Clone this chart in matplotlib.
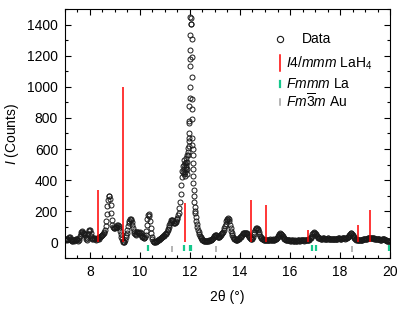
import numpy as np
import matplotlib
matplotlib.use('Agg')
import matplotlib.pyplot as plt

plt.rcParams['font.family'] = ['Liberation Sans', 'DejaVu Sans']
plt.rcParams['mathtext.fontset'] = 'custom'
plt.rcParams['mathtext.rm'] = 'Liberation Sans'
plt.rcParams['mathtext.it'] = 'Liberation Sans:italic'

#####################################
# Data (counts, 2theta from 7 to 20 deg, step 0.025)
tth_start = 7.0
tth_step = 0.025
counts = [
    18, 22, 25, 20, 15, 20, 30, 38,          # 7.0
    35, 25, 15, 10, 12, 18, 15, 10,          # 7.2
    14, 20, 25, 22, 15, 12, 18, 30,          # 7.4
    42, 55, 68, 75, 70, 60, 52, 60,          # 7.6
    50, 35, 22, 18, 30, 52, 72, 82,          # 7.8
    78, 62, 42, 28, 22, 25, 30, 26,          # 8.0
    20, 18, 24, 30, 28, 22, 25, 32,          # 8.2
    38, 40, 42, 45, 48, 52, 58, 68,          # 8.4
    82, 105, 140, 185, 235, 275, 298, 300,   # 8.6
    280, 240, 190, 145, 115, 100, 95, 92,    # 8.8
    95, 98, 96, 100, 112, 115, 105, 90,      # 9.0
    75, 55, 38, 22, 10, 3, 0, 6,             # 9.2
    18, 32, 45, 62, 82, 105, 125, 140,       # 9.4
    150, 152, 145, 130, 110, 90, 72, 60,     # 9.6
    52, 50, 55, 65, 70, 66, 58, 62,          # 9.8
    68, 60, 48, 42, 38, 32, 28, 30,          # 10.0
    35, 48, 72, 110, 150, 178, 185, 170,     # 10.2
    135, 95, 62, 38, 22, 12, 6, 3,           # 10.4
    2, 5, 8, 10, 12, 15, 18, 20,             # 10.6
    24, 27, 30, 33, 36, 40, 44, 48,          # 10.8
    52, 56, 62, 70, 78, 88, 98, 110,         # 11.0
    122, 133, 142, 146, 145, 138, 128, 122,  # 11.2
    125, 132, 140, 150, 160, 175, 190, 220,  # 11.4
    260, 310, 370, 420, 460, 490, 470, 500,  # 11.6
    455, 485, 515, 470, 520, 560, 620, 780,  # 11.8
    1180, 1445, 1405, 860, 600, 470, 340, 260,  # 12.0
    205, 165, 138, 118, 100, 82, 66, 52,     # 12.2
    42, 34, 28, 22, 18, 14, 11, 9,           # 12.4
    8, 8, 9, 10, 10, 11, 12, 13,             # 12.6
    15, 16, 18, 20, 22, 26, 32, 40,          # 12.8
    46, 48, 45, 40, 35, 32, 32, 35,          # 13.0
    40, 45, 52, 58, 62, 68, 78, 90,          # 13.2
    105, 120, 135, 146, 152, 154, 148, 135,  # 13.4
    115, 95, 75, 58, 45, 35, 28, 22,         # 13.6
    20, 18, 17, 17, 18, 20, 24, 28,          # 13.8
    32, 38, 44, 50, 55, 58, 60, 60,          # 14.0
    58, 60, 62, 58, 54, 48, 40, 32,          # 14.2
    26, 22, 20, 22, 28, 38, 52, 66,          # 14.4
    78, 86, 90, 90, 86, 78, 66, 54,          # 14.6
    44, 36, 30, 25, 22, 20, 18, 17,          # 14.8
    16, 16, 17, 18, 18, 17, 16, 18,          # 15.0
    20, 18, 16, 18, 20, 18, 17, 18,          # 15.2
    20, 22, 24, 28, 34, 42, 50, 55,          # 15.4
    58, 56, 52, 46, 40, 34, 28, 24,          # 15.6
    20, 18, 16, 15, 14, 14, 13, 13,          # 15.8
    12, 12, 13, 14, 13, 12, 11, 12,          # 16.0
    13, 12, 11, 12, 13, 14, 13, 12,          # 16.2
    12, 13, 14, 15, 14, 13, 12, 13,          # 16.4
    14, 15, 16, 15, 14, 15, 18, 22,          # 16.6
    26, 30, 36, 44, 52, 58, 62, 64,          # 16.8
    62, 56, 48, 40, 34, 30, 28, 27,          # 17.0
    26, 25, 24, 25, 27, 28, 26, 24,          # 17.2
    22, 21, 22, 24, 26, 27, 25, 22,          # 17.4
    20, 19, 20, 22, 24, 25, 24, 22,          # 17.6
    20, 19, 20, 22, 24, 26, 28, 27,          # 17.8
    25, 24, 25, 27, 29, 30, 28, 26,          # 18.0
    25, 26, 28, 30, 33, 37, 42, 48,          # 18.2
    54, 58, 58, 55, 50, 42, 35, 28,          # 18.4
    23, 20, 18, 17, 16, 16, 17, 18,          # 18.6
    17, 16, 16, 17, 18, 19, 20, 21,          # 18.8
    22, 23, 24, 25, 26, 27, 28, 28,          # 19.0
    27, 26, 26, 27, 28, 28, 26, 24,          # 19.2
    22, 21, 20, 20, 21, 22, 21, 19,          # 19.4
    18, 17, 18, 20, 22, 23, 22, 20,          # 19.6
    18, 16, 14, 12, 11, 10, 9, 8,            # 19.8
    8,                                       # 20.0
]
tth = tth_start + tth_step * np.arange(len(counts))

# extra points on the strong, narrow reflection near 12 deg
peak_tth = [11.74, 11.76, 11.78, 11.79, 11.81, 11.83, 11.84, 11.86, 11.87, 11.89,
            11.91, 11.93, 11.95, 11.96, 11.97, 11.975, 11.98, 11.985, 11.99, 11.995,
            12.0, 12.005, 12.01,
            12.06, 12.065, 12.068, 12.07, 12.072, 12.078, 12.085, 12.09, 12.105, 12.115,
            12.13, 12.14, 12.16, 12.19, 12.21]
peak_counts = [450, 530, 440, 510, 430, 470, 540, 500, 440, 560,
               580, 610, 650, 670, 700, 766, 875, 930, 996, 1131,
               1237, 1331, 1447,
               1404, 1310, 1192, 1060, 923, 794, 673, 626, 560, 510,
               430, 380, 300, 230, 190]

# reference reflections
lah4_pos = [8.34, 9.34, 11.80, 14.46, 15.05, 16.73, 18.71, 19.19]
lah4_int = [335, 1000, 255, 272, 240, 80, 112, 208]
la_pos = [10.34, 11.76, 12.00, 12.04, 16.86, 17.03, 19.97]
au_pos = [11.30, 13.05, 18.48]
#####################################

green = '#14C88C'
gray = '#A0A0A0'

fig = plt.figure(figsize=(4.07, 3.12), dpi=100)
ax = fig.add_axes([65/407, 54/312, 325/407, 249/312])

ax.plot(tth, counts, 'o', mfc='none', mec='#1a1a1a', ms=3.6, mew=0.7, zorder=2)
ax.plot(peak_tth, peak_counts, 'o', mfc='none', mec='#1a1a1a', ms=3.6, mew=0.7, zorder=2)

ax.vlines(lah4_pos, 0, lah4_int, color='red', lw=1.1, zorder=3)
ax.vlines(la_pos, -52, -15, color=green, lw=1.6, zorder=3)
ax.vlines(au_pos, -62, -22, color=gray, lw=1.1, zorder=3)

ax.set_xlim(7, 20)
ax.set_ylim(-100, 1500)
ax.set_xticks([8, 10, 12, 14, 16, 18, 20])
ax.set_xticks(np.arange(7, 20.01, 0.5), minor=True)
ax.set_yticks([0, 200, 400, 600, 800, 1000, 1200, 1400])
ax.set_yticks(np.arange(-100, 1501, 100), minor=True)
ax.tick_params(which='both', direction='in', top=True, right=True, labelsize=10, width=0.8)
ax.tick_params(which='major', length=4, pad=5)
ax.tick_params(which='minor', length=2)
for s in ax.spines.values():
    s.set_linewidth(0.8)

ax.set_xlabel(r'2θ (°)', fontsize=10, labelpad=8)
ax.set_ylabel(r'$\mathit{I}$ (Counts)', fontsize=10, labelpad=4)

#####################################
# Legend (drawn by hand, Origin style)
tr = ax.transAxes
ax.plot([0.6615], [0.8795], 'o', mfc='none', mec='#1a1a1a', ms=4.5, mew=0.8, transform=tr, clip_on=False)
ax.text(0.729, 0.8795, 'Data', transform=tr, va='center', fontsize=10)
ax.plot([0.6615, 0.6615], [0.751, 0.815], color='red', lw=1.1, transform=tr)
ax.text(0.680, 0.783, r'$\mathit{I4/mmm}$ LaH$_4$', transform=tr, va='center', fontsize=10)
ax.plot([0.6615, 0.6615], [0.685, 0.709], color=green, lw=1.6, transform=tr)
ax.text(0.680, 0.699, r'$\mathit{Fmmm}$ La', transform=tr, va='center', fontsize=10)
ax.plot([0.6615, 0.6615], [0.614, 0.639], color=gray, lw=1.1, transform=tr)
ax.text(0.680, 0.627, r'$\mathit{Fm}\overline{3}\mathit{m}$ Au', transform=tr, va='center', fontsize=10)
#####################################

fig.savefig('out.png', dpi=100)
